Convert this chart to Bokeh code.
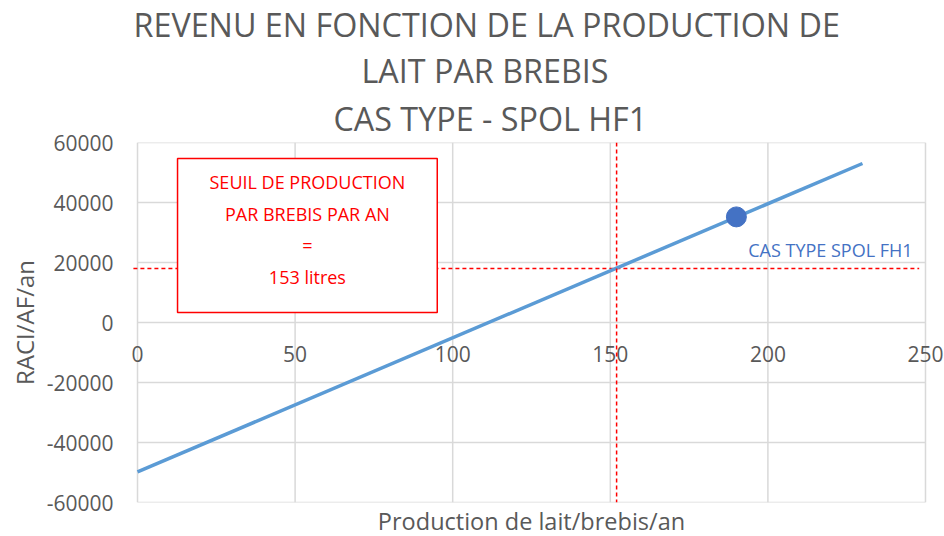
from bokeh.plotting import figure
from bokeh.models import Label, LabelSet, BoxAnnotation, Span, FixedTicker, ColumnDataSource, Title
from bokeh.core.properties import value
from bokeh.embed import file_html
from bokeh.resources import INLINE

# ---- data ----
line_x = [0, 230]
line_y = [-49800, 53000]
point_x = [190]
point_y = [35200]
seuil_x = 152
seuil_y = 18000
seuil_line_x = [-1.3, 248]
x_ticks = [0, 50, 100, 150, 200, 250]
x_tick_labels = ["0", "50", "100", "150", "200", "250"]
y_ticks = [-60000, -40000, -20000, 0, 20000, 40000, 60000]
y_tick_labels = ["-60000", "-40000", "-20000", "0", "20000", "40000", "60000"]
title_lines = ["REVENU EN FONCTION DE LA PRODUCTION DE", "LAIT PAR BREBIS", "CAS TYPE - SPOL HF1"]
box_lines = ["SEUIL DE PRODUCTION", "PAR BREBIS PAR AN", "=", "153 litres"]
series_label = "CAS TYPE SPOL FH1"
x_title = "Production de lait/brebis/an"
y_title = "RACI/AF/an"

W, H = 944, 536
FL, FR, FT, FB = 118, 944, 142, 502   # frame edges in page pixels (frame a bit wider than the grid)
FONT = "Open Sans"
GREY = "#595959"
GRID = "#D9D9D9"

p = figure(width=W, height=H, x_range=(-6.03, 256.03), y_range=(-60000, 60000),
           toolbar_location=None, output_backend="svg",
           min_border_left=FL, min_border_right=W - FR, min_border_top=FT, min_border_bottom=H - FB)
p.background_fill_color = "white"
p.border_fill_color = "white"
p.outline_line_color = None
p.xgrid.visible = False
p.ygrid.visible = False

# grid drawn over the 0..250 / -60000..60000 area
p.segment(x0=x_ticks, x1=x_ticks, y0=y_ticks[0], y1=y_ticks[-1], line_color=GRID, line_width=1.5)
p.segment(x0=x_ticks[0], x1=x_ticks[-1], y0=y_ticks, y1=y_ticks, line_color=GRID, line_width=1.5)

# y axis
ya = p.yaxis[0]
ya.ticker = FixedTicker(ticks=y_ticks)
ya.major_label_overrides = {t: l for t, l in zip(y_ticks, y_tick_labels)}
ya.axis_line_color = None
ya.major_tick_line_color = None
ya.minor_tick_line_color = None
ya.major_tick_out = 0
ya.major_label_standoff = 5
ya.major_label_text_font = FONT
ya.major_label_text_font_size = "21px"
ya.major_label_text_color = GREY
ya.axis_label = y_title
ya.axis_label_text_font = FONT
ya.axis_label_text_font_size = "24px"
ya.axis_label_text_font_style = "normal"
ya.axis_label_text_color = GREY
ya.axis_label_standoff = 3

# x axis: labels at y = 0
p.xaxis.visible = False
xsrc = ColumnDataSource(dict(x=x_ticks, y=[0] * len(x_ticks), t=x_tick_labels))
p.add_layout(LabelSet(x="x", y="y", text="t", source=xsrc, y_offset=-31,
                      text_align="center", text_baseline="middle",
                      text_font=value(FONT), text_font_size="21px", text_color=GREY))

# threshold lines
p.segment(x0=seuil_line_x[0], x1=seuil_line_x[1], y0=seuil_y, y1=seuil_y,
          line_color="#FF0000", line_width=1.5, line_dash="4 3")
p.add_layout(Span(location=seuil_x, dimension="height", line_color="#FF0000",
                  line_width=1.5, line_dash="4 3"))

# main series
p.line(line_x, line_y, line_color="#5B9BD5", line_width=3.5)
p.scatter(point_x, point_y, size=20, color="#4472C4")

# box
p.add_layout(BoxAnnotation(left=12.7, right=95.1, top=54667, bottom=3333,
                           fill_color="white", fill_alpha=1.0,
                           line_color="#FF0000", line_alpha=1.0, line_width=1.5))
box_y = [46667, 36333, 25667, 15333]
for txt, yy in zip(box_lines, box_y):
    p.add_layout(Label(x=53.9, y=yy, text=txt, text_align="center", text_baseline="middle",
                       text_font=FONT, text_font_size="18px", text_color="#FF0000"))

p.add_layout(Label(x=245.9, y=24333, text=series_label, text_align="right", text_baseline="middle",
                   text_font=FONT, text_font_size="18px", text_color="#4472C4"))

# titles (added from the frame outward)
title_left = [133, 361, 333]
title_standoff = [0.2, 1.2, 3.2]
for txt, left, so in reversed(list(zip(title_lines, title_left, title_standoff))):
    p.add_layout(Title(text=txt, align="left", offset=left - FL, standoff=so,
                       vertical_align="middle",
                       text_font=FONT, text_font_size="32.3px", text_font_style="normal",
                       text_color=GREY), "above")

p.add_layout(Title(text=x_title, align="center", standoff=0,
                   text_font=FONT, text_font_size="23.5px", text_font_style="normal",
                   text_color=GREY), "below")

open("out.html", "w").write(file_html(p, INLINE))
